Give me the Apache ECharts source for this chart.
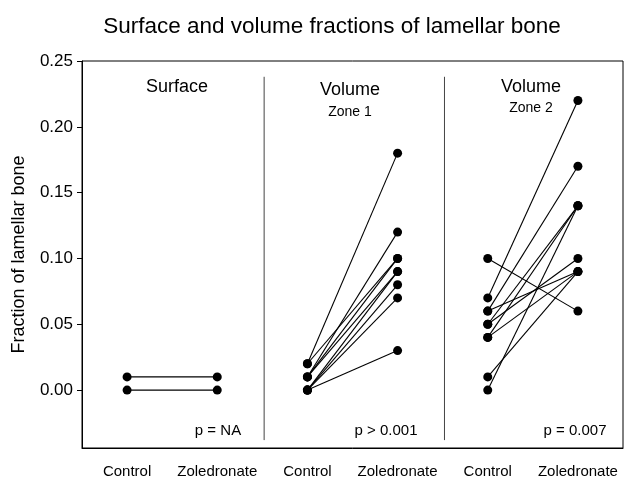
<!DOCTYPE html>
<html>
<head>
<meta charset="utf-8">
<script src="https://cdn.jsdelivr.net/npm/echarts@6/dist/echarts.min.js"></script>
<style>
html,body{margin:0;padding:0;background:#fff;}
#chart{width:630px;height:488px;}
</style>
</head>
<body>
<div id="chart"></div>
<script>
var categories = ['Control', 'Zoledronate', 'Control', 'Zoledronate', 'Control', 'Zoledronate'];
var yTicks = [0, 0.05, 0.10, 0.15, 0.20, 0.25];

// paired values (control -> zoledronate) per panel
var surfaceControl = [0.01, 0.00];
var surfaceZol     = [0.01, 0.00];

var zone1Control = [0.02, 0.02, 0.01, 0.01, 0.01, 0.00, 0.00, 0.00, 0.00];
var zone1Zol     = [0.18, 0.10, 0.12, 0.10, 0.09, 0.09, 0.08, 0.07, 0.03];

var zone2Control = [0.10, 0.07, 0.06, 0.06, 0.05, 0.05, 0.04, 0.04, 0.01, 0.00];
var zone2Zol     = [0.06, 0.22, 0.17, 0.09, 0.14, 0.10, 0.14, 0.09, 0.09, 0.14];

var panelTitles = ['Surface', 'Volume', 'Volume'];
var panelSubtitles = ['', 'Zone 1', 'Zone 2'];
var pValues = ['p = NA', 'p > 0.001', 'p = 0.007'];

var FONT = '"Liberation Sans", Arial, Helvetica, sans-serif';

var panels = [
  {c: surfaceControl, z: surfaceZol, ci: 0},
  {c: zone1Control, z: zone1Zol, ci: 2},
  {c: zone2Control, z: zone2Zol, ci: 4}
];

var series = [];
panels.forEach(function (p) {
  for (var i = 0; i < p.c.length; i++) {
    series.push({
      type: 'line',
      xAxisIndex: 0,
      yAxisIndex: 0,
      data: [[p.ci, p.c[i]], [p.ci + 1, p.z[i]]],
      symbol: 'circle',
      symbolSize: 9,
      lineStyle: {color: '#000', width: 1.1},
      itemStyle: {color: '#000'},
      silent: true,
      animation: false
    });
  }
});

// panel dividers
[2.02, 4.02].forEach(function (x) {
  series.push({
    type: 'line',
    xAxisIndex: 1,
    yAxisIndex: 0,
    data: [[x, 0.238], [x, -0.038]],
    symbol: 'none',
    lineStyle: {color: '#444', width: 1},
    silent: true,
    animation: false
  });
});

var graphics = [];
var panelCentersTitle = [177, 350, 531];
var titleY = [87, 90, 87];
var subY = [0, 112, 108];
var pX = [218, 386, 575];
for (var k = 0; k < 3; k++) {
  graphics.push({
    type: 'text', x: panelCentersTitle[k], y: titleY[k],
    style: {text: panelTitles[k], font: '18px ' + FONT, fill: '#000', textAlign: 'center', textVerticalAlign: 'middle'}
  });
  if (panelSubtitles[k]) {
    graphics.push({
      type: 'text', x: panelCentersTitle[k], y: subY[k],
      style: {text: panelSubtitles[k], font: '14px ' + FONT, fill: '#000', textAlign: 'center', textVerticalAlign: 'middle'}
    });
  }
  graphics.push({
    type: 'text', x: pX[k], y: 431,
    style: {text: pValues[k], font: '15px ' + FONT, fill: '#000', textAlign: 'center', textVerticalAlign: 'middle'}
  });
}

var chart = echarts.init(document.getElementById('chart'), null, {renderer: 'canvas'});
chart.setOption({
  backgroundColor: '#fff',
  animation: false,
  title: {
    text: 'Surface and volume fractions of lamellar bone',
    left: 327, top: 10, textAlign: 'center',
    textStyle: {fontFamily: FONT, fontSize: 22.5, fontWeight: 'normal', color: '#000'}
  },
  grid: {left: 82, right: 7, top: 61, bottom: 40, show: true, borderColor: '#000', borderWidth: 1,
    backgroundColor: 'transparent', containLabel: false, outerBoundsMode: 'none'},
  xAxis: [{
    type: 'category',
    data: categories,
    boundaryGap: true,
    axisLine: {onZero: false, lineStyle: {color: '#000', width: 1}},
    axisTick: {alignWithLabel: true, length: 5, lineStyle: {color: '#000'}},
    axisLabel: {color: '#000', fontFamily: FONT, fontSize: 15, margin: 16, interval: 0},
    splitLine: {show: false}
  }, {
    type: 'value', min: 0, max: 6, show: false, splitLine: {show: false}
  }],
  yAxis: {
    type: 'value',
    min: -0.044,
    max: 0.25,
    name: 'Fraction of lamellar bone',
    nameLocation: 'middle',
    nameGap: 54,
    nameRotate: 90,
    nameTextStyle: {fontFamily: FONT, fontSize: 18, color: '#000'},
    axisLine: {show: true, onZero: false, lineStyle: {color: '#000', width: 1}},
    axisTick: {show: true, length: 5, lineStyle: {color: '#000'}, customValues: yTicks},
    axisLabel: {color: '#000', fontFamily: FONT, fontSize: 17, margin: 9, customValues: yTicks,
      formatter: function (v) { return v.toFixed(2); }},
    splitLine: {show: false}
  },
  graphic: graphics,
  series: series
});
</script>
</body>
</html>
